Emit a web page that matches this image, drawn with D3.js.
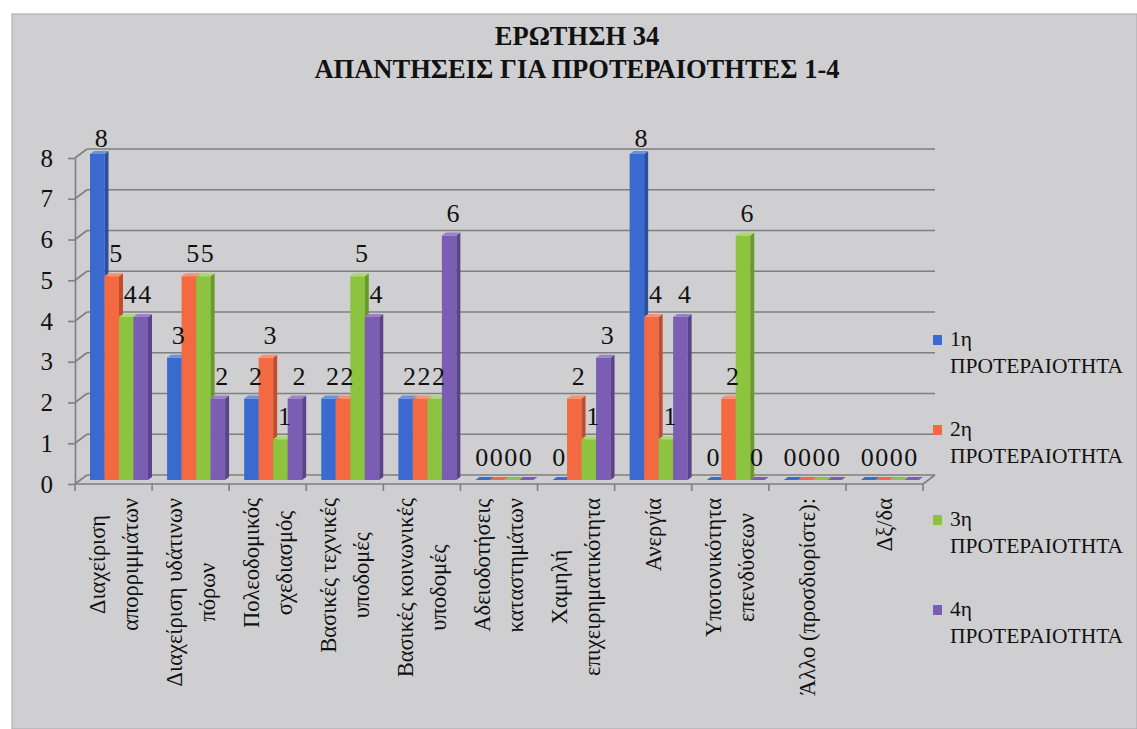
<!DOCTYPE html>
<html><head><meta charset="utf-8">
<script src="https://cdn.jsdelivr.net/npm/d3@7"></script>
<style>body{margin:0;background:#fff}</style>
</head><body><svg id="c" width="1137" height="729" font-family="Liberation Serif, Tinos, Times New Roman, DejaVu Serif, serif"></svg>
<script>
const titleLines = ["ΕΡΩΤΗΣΗ 34", "ΑΠΑΝΤΗΣΕΙΣ ΓΙΑ ΠΡΟΤΕΡΑΙΟΤΗΤΕΣ 1-4"];
const categories = [
  ["Διαχείριση", "απορριμμάτων"],
  ["Διαχείριση υδάτινων", "πόρων"],
  ["Πολεοδομικός", "σχεδιασμός"],
  ["Βασικές τεχνικές", "υποδομές"],
  ["Βασικές κοινωνικές", "υποδομές"],
  ["Αδειοδοτήσεις", "καταστημάτων"],
  ["Χαμηλή", "επιχειρηματικότητα"],
  ["Ανεργία"],
  ["Υποτονικότητα", "επενδύσεων"],
  ["Άλλο (προσδιορίστε):"],
  ["Δξ/δα"]
];
const seriesNames = [["1η", "ΠΡΟΤΕΡΑΙΟΤΗΤΑ"], ["2η", "ΠΡΟΤΕΡΑΙΟΤΗΤΑ"], ["3η", "ΠΡΟΤΕΡΑΙΟΤΗΤΑ"], ["4η", "ΠΡΟΤΕΡΑΙΟΤΗΤΑ"]];
const priority1 = [8, 3, 2, 2, 2, 0, 0, 8, 0, 0, 0];
const priority2 = [5, 5, 3, 2, 2, 0, 2, 4, 2, 0, 0];
const priority3 = [4, 5, 1, 5, 2, 0, 1, 1, 6, 0, 0];
const priority4 = [4, 2, 2, 4, 6, 0, 3, 4, 0, 0, 0];
const yTicks = [0, 1, 2, 3, 4, 5, 6, 7, 8];

const series = [priority1, priority2, priority3, priority4];
const colors = [
  {front: "#3a6ad0", side: "#2a4f9e", top: "#6a92e0"},
  {front: "#f26942", side: "#c24d2c", top: "#f79170"},
  {front: "#8dc43f", side: "#6a9a2a", top: "#add96d"},
  {front: "#7b5db3", side: "#5b438a", top: "#9a82cb"}
];
const FONT = "Liberation Serif, Tinos, Times New Roman, DejaVu Serif, serif";

const svg = d3.select("#c");
svg.append("rect").attr("x", 12).attr("y", 14).attr("width", 1125).attr("height", 715)
  .attr("fill", "#cfcfd1").attr("stroke", "#a8a8ac").attr("stroke-width", 1);

const X0 = 75, X1 = 923, DX = 12, DY = -9;
const y = d3.scaleLinear().domain([0, 8]).range([484, 158]);
const x = d3.scaleBand().domain(d3.range(categories.length)).range([X0, X1]);
const xs = d3.scaleBand().domain(d3.range(series.length)).range([15, 73]);
const gridColor = "#7f7f7f";

const grid = svg.append("g").attr("stroke", gridColor).attr("stroke-width", 1.6).attr("fill", "none");
yTicks.forEach(t => {
  grid.append("line").attr("x1", X0 + DX).attr("y1", y(t) + DY).attr("x2", X1 + DX).attr("y2", y(t) + DY);
  grid.append("line").attr("x1", X0).attr("y1", y(t)).attr("x2", X0 + DX).attr("y2", y(t) + DY);
});
grid.append("line").attr("x1", X0).attr("y1", y(0)).attr("x2", X1).attr("y2", y(0));
grid.append("line").attr("x1", X1).attr("y1", y(0)).attr("x2", X1 + DX).attr("y2", y(0) + DY);
d3.range(categories.length + 1).forEach(i => {
  const bx = i < categories.length ? x(i) : X1;
  grid.append("line").attr("x1", bx).attr("y1", y(0)).attr("x2", bx).attr("y2", y(0) + 7);
});

const yAxis = svg.append("g").attr("transform", `translate(${X0},0)`)
  .call(d3.axisLeft(y).tickValues(yTicks).tickSize(7).tickSizeOuter(0).tickPadding(15).tickFormat(d3.format("d")));
yAxis.attr("font-family", FONT);
yAxis.selectAll("path,line").attr("stroke", gridColor).attr("stroke-width", 1.6);
yAxis.selectAll("text").attr("font-family", FONT).attr("font-size", 25).attr("fill", "#111");

const FY = -4;
const BD = 4, BDY = -3;
const bars = svg.append("g");
const bw = xs.bandwidth();
const labelData = [];
categories.forEach((c, i) => {
  series.forEach((s, k) => {
    const v = s[i];
    const bx = x(i) + xs(k);
    const base = y(0) + FY;
    const top = y(v) + FY;
    const col = colors[k];
    if (v > 0) {
      bars.append("rect").attr("x", bx).attr("y", top).attr("width", bw).attr("height", base - top).attr("fill", col.front);
      bars.append("path").attr("d", `M${bx + bw},${top}L${bx + bw + BD},${top + BDY}L${bx + bw + BD},${base + BDY}L${bx + bw},${base}Z`).attr("fill", col.side);
    }
    bars.append("path").attr("d", `M${bx},${top}L${bx + bw},${top}L${bx + bw + BD},${top + BDY}L${bx + BD},${top + BDY}Z`).attr("fill", v > 0 ? col.top : col.front);
    labelData.push({x: bx + bw / 2 + (v > 0 ? 4 : -1), y: Math.max(top - 14, 147), v});
  });
});

svg.append("g").selectAll("text").data(labelData).join("text")
  .attr("x", d => d.x).attr("y", d => d.y).attr("text-anchor", "middle")
  .attr("font-family", FONT).attr("font-size", 26).attr("fill", "#111")
  .text(d => d.v);

const catG = svg.append("g");
categories.forEach((lines, i) => {
  const cx = x(i) + x.bandwidth() / 2;
  const g = catG.append("g");
  const texts = lines.map(l => g.append("text").attr("font-family", FONT).attr("font-size", 22.5)
    .attr("fill", "#111").attr("text-anchor", "middle").attr("dominant-baseline", "central").text(l));
  const maxLen = d3.max(texts, t => t.node().getComputedTextLength());
  texts.forEach((t, j) => {
    const lx = cx + (j - (lines.length - 1) / 2) * 33;
    t.attr("transform", `translate(${lx},${498 + maxLen / 2}) rotate(-90)`);
  });
});

svg.append("g").selectAll("text").data(titleLines).join("text")
  .attr("x", 577).attr("y", (d, i) => 45 + i * 33).attr("text-anchor", "middle")
  .attr("font-family", FONT).attr("font-weight", "bold").attr("font-size", 26.5).attr("fill", "#111")
  .text(d => d);

const leg = svg.append("g");
seriesNames.forEach((lines, k) => {
  const by = 346 + k * 90;
  leg.append("rect").attr("x", 933).attr("y", by - 11).attr("width", 9).attr("height", 10).attr("fill", colors[k].front);
  lines.forEach((l, j) => {
    leg.append("text").attr("x", 950).attr("y", by + j * 27)
      .attr("font-family", FONT).attr("font-size", 21.5).attr("fill", "#111").text(l);
  });
});
</script>
</body></html>
